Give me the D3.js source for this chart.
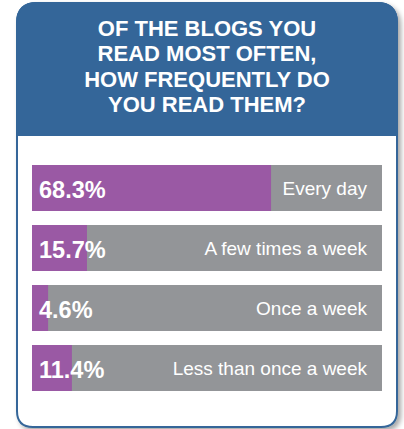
<!DOCTYPE html>
<html>
<head>
<meta charset="utf-8">
<script src="https://cdn.jsdelivr.net/npm/d3@7"></script>
<style>
  body { margin: 0; background: #fff; }
  svg { display: block; }
</style>
</head>
<body>
<div id="chart"></div>
<script>
var categories = ["Every day", "A few times a week", "Once a week", "Less than once a week"]
var values = [68.3, 15.7, 4.6, 11.4]
var titleLines = ["OF THE BLOGS YOU", "READ MOST OFTEN,", "HOW FREQUENTLY DO", "YOU READ THEM?"]

var W = 404, H = 429
var blue = "#346699", purple = "#9a59a4", gray = "#939598"
var font = "Liberation Sans, Arial, sans-serif"

var svg = d3.select("#chart").append("svg")
            .attr("width", W)
            .attr("height", H)

var defs = svg.append("defs")
var f = defs.append("filter").attr("id", "shadow")
            .attr("x", "-10%").attr("y", "-10%").attr("width", "130%").attr("height", "130%")
f.append("feDropShadow")
 .attr("dx", 3).attr("dy", 3).attr("stdDeviation", 2.5)
 .attr("flood-color", "#000").attr("flood-opacity", 0.35)

// card
var cx0 = 17, cx1 = 397, cy0 = 3, cy1 = 427, headH = 132, r = 20
function cardPath(x0, y0, x1, y1, rt, rb) {
    return "M" + x0 + "," + (y0 + rt) +
           "Q" + x0 + "," + y0 + " " + (x0 + rt) + "," + y0 +
           "L" + (x1 - rt) + "," + y0 +
           "Q" + x1 + "," + y0 + " " + x1 + "," + (y0 + rt) +
           "L" + x1 + "," + (y1 - rb) +
           "Q" + x1 + "," + y1 + " " + (x1 - rb) + "," + y1 +
           "L" + (x0 + rb) + "," + y1 +
           "Q" + x0 + "," + y1 + " " + x0 + "," + (y1 - rb) + "Z"
}
svg.append("path")
   .attr("d", cardPath(cx0, cy0, cx1, cy1, r, 16))
   .attr("fill", "#fff")
   .attr("stroke", blue)
   .attr("stroke-width", 2)
   .attr("filter", "url(#shadow)")

// header
svg.append("path")
   .attr("d", "M" + cx0 + "," + (cy0 + r) +
              "Q" + cx0 + "," + cy0 + " " + (cx0 + r) + "," + cy0 +
              "L" + (cx1 - r) + "," + cy0 +
              "Q" + cx1 + "," + cy0 + " " + cx1 + "," + (cy0 + r) +
              "L" + cx1 + "," + (cy0 + headH) +
              "L" + cx0 + "," + (cy0 + headH) + "Z")
   .attr("fill", blue)
   .attr("stroke", blue)
   .attr("stroke-width", 2)

svg.append("text")
   .attr("text-anchor", "middle")
   .attr("font-family", font)
   .attr("font-weight", "bold")
   .attr("font-size", 22)
   .attr("fill", "#fff")
   .selectAll("tspan")
   .data(titleLines)
   .enter().append("tspan")
   .attr("x", 207)
   .attr("y", function (d, i) { return 35.5 + i * 25.6 })
   .text(function (d) { return d })

// bars
var x = d3.scaleLinear().domain([0, 100]).range([32, 382])
var y = d3.scaleBand().domain(categories).range([165, 391])
          .paddingInner(14 / 60).paddingOuter(0)

var rows = svg.selectAll(".row")
              .data(categories)
              .enter().append("g")
              .attr("class", "row")
              .attr("transform", function (d) { return "translate(0," + y(d) + ")" })

rows.append("rect")
    .attr("x", x(0))
    .attr("y", 0)
    .attr("width", x(100) - x(0))
    .attr("height", y.bandwidth())
    .attr("fill", gray)

rows.append("rect")
    .attr("x", x(0))
    .attr("y", 0)
    .attr("width", function (d, i) { return x(values[i]) - x(0) })
    .attr("height", y.bandwidth())
    .attr("fill", purple)

rows.append("text")
    .attr("x", 39)
    .attr("y", y.bandwidth() / 2 + 9.5)
    .attr("font-family", font)
    .attr("font-weight", "bold")
    .attr("font-size", 23.5)
    .attr("fill", "#fff")
    .text(function (d, i) { return values[i].toFixed(1) + "%" })

rows.append("text")
    .attr("x", 367)
    .attr("y", y.bandwidth() / 2 + 6.5)
    .attr("text-anchor", "end")
    .attr("font-family", font)
    .attr("font-size", 19)
    .attr("fill", "#fff")
    .text(function (d) { return d })
</script>
</body>
</html>
